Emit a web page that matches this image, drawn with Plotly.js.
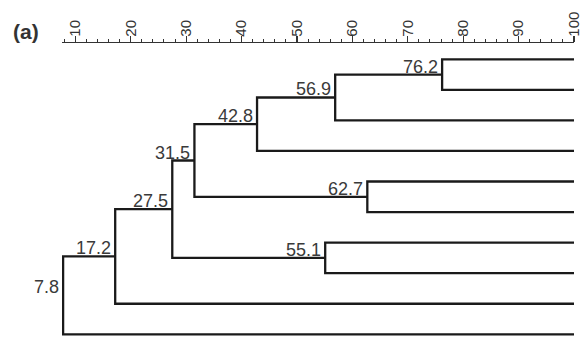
<!DOCTYPE html>
<html>
<head>
<meta charset="utf-8">
<script src="https://cdn.plot.ly/plotly-3.0.1.min.js"></script>
<style>
html,body{margin:0;padding:0;background:#fff;}
#chart{width:581px;height:341px;}
</style>
</head>
<body>
<div id="chart"></div>
<script>
// Leaves, top to bottom (similarity of a leaf = 100)
var leaves = ["L1","L2","L3","L4","L5","L6","L7","L8","L9","L10"];
// Cluster nodes: similarity value and its two children
var nodeNames  = ["N1","N2","N3","N4","N5","N6","N7","N8","N9"];
var nodeValues = [76.2, 56.9, 42.8, 62.7, 31.5, 55.1, 27.5, 17.2, 7.8];
var childA     = ["L1","N1","N2","L5","N3","L7","N5","N7","N8"];
var childB     = ["L2","L3","L4","L6","N4","L8","N6","L9","L10"];
var leafValue = 100;
var tickValues = [10,20,30,40,50,60,70,80,90,100];

var pos = {};
leaves.forEach(function(n,i){ pos[n] = {x: leafValue, y: i+1}; });
nodeNames.forEach(function(n,i){
  var a = pos[childA[i]], b = pos[childB[i]];
  pos[n] = {x: nodeValues[i], y: (a.y+b.y)/2};
});

var lx = [], ly = [];
nodeNames.forEach(function(n,i){
  var a = pos[childA[i]], b = pos[childB[i]], v = nodeValues[i];
  lx.push(a.x, v, v, b.x, null);
  ly.push(a.y, a.y, b.y, b.y, null);
});

var annotations = nodeNames.map(function(n,i){
  return {
    x: pos[n].x, y: pos[n].y, xref:'x', yref:'y',
    text: nodeValues[i].toFixed(1), showarrow:false,
    xanchor:'right', yanchor:'bottom', xshift:-2, yshift:-4,
    font:{family:'Liberation Sans, Arial, sans-serif', size:18, color:'#3a3a3a'}
  };
});
annotations.push({
  xref:'paper', yref:'paper', x:-0.1, y:1.04, xanchor:'left', yanchor:'middle',
  text:'<b>(a)</b>', showarrow:false,
  font:{family:'Liberation Sans, Arial, sans-serif', size:21, color:'#333'}
});

var trace = {
  x: lx, y: ly, type:'scatter', mode:'lines',
  line:{color:'#1a1a1a', width:2.3}, hoverinfo:'skip', connectgaps:false
};

var layout = {
  width:581, height:341,
  margin:{l:62, r:7, t:43, b:2},
  paper_bgcolor:'#fff', plot_bgcolor:'#fff',
  showlegend:false,
  xaxis:{
    side:'top', range:[7.6,100], tickmode:'array', tickvals:tickValues,
    ticks:'outside', ticklen:6, tickwidth:1.2, tickcolor:'#333',
    showline:true, linecolor:'#333', linewidth:1.3,
    showgrid:false, zeroline:false, tickangle:-90, ticklabelshift:0,
    ticklabelstandoff:-4, ticklabeloverflow:'allow',
    tickfont:{family:'Liberation Sans, Arial, sans-serif', size:15, color:'#333'},
    minor:{dtick:2, tick0:0, ticks:'outside', ticklen:3, tickwidth:1, tickcolor:'#333', showgrid:false}
  },
  yaxis:{
    range:[10.154, 0.467], visible:false, showgrid:false, zeroline:false
  },
  annotations: annotations
};

Plotly.newPlot('chart', [trace], layout, {staticPlot:true, displayModeBar:false});
</script>
</body>
</html>
